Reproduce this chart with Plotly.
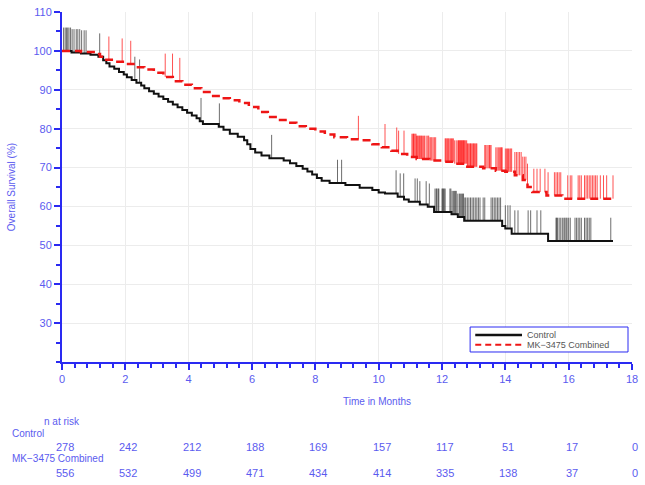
import numpy as np
import plotly.graph_objects as go

# ---------------- data ----------------
ctrl_t = [0.0, 0.3, 0.6, 0.9, 1.15, 1.3, 1.4, 1.5, 1.65, 1.8, 1.95, 2.05, 2.2, 2.35, 2.5, 2.6,
          2.75, 2.9, 3.05, 3.2, 3.35, 3.5, 3.65, 3.8, 3.95, 4.1, 4.25, 4.35, 4.45, 4.95, 5.1,
          5.3, 5.55, 5.75, 5.85, 5.95, 6.1, 6.3, 6.55, 7.0, 7.2, 7.4, 7.6, 7.75, 7.9, 8.05,
          8.2, 8.45, 8.95, 9.4, 9.8, 10.0, 10.2, 10.6, 10.8, 10.95, 11.3, 11.55, 11.75, 12.3,
          12.5, 12.7, 13.9, 14.0, 14.2, 15.35, 17.4]
ctrl_s = [100.0, 99.6, 99.3, 99.0, 98.5, 97.6, 96.8, 96.0, 95.4, 94.6, 93.9, 93.2, 92.5, 91.8,
          91.1, 90.4, 89.6, 89.0, 88.3, 87.6, 86.9, 86.2, 85.5, 84.8, 84.1, 83.4, 82.7, 81.9,
          81.2, 80.5, 79.7, 78.7, 77.9, 77.0, 76.0, 74.8, 73.9, 73.1, 72.4, 71.8, 71.1, 70.4,
          69.7, 69.0, 68.2, 67.3, 66.6, 66.0, 65.5, 64.8, 64.2, 63.6, 63.3, 62.5, 61.8, 61.2,
          60.5, 59.9, 58.6, 58.0, 57.3, 56.3, 55.0, 54.3, 53.0, 51.1, 51.1]

mk_t = [0.0, 0.6, 1.0, 1.2, 1.4, 1.7, 2.0, 2.3, 2.6, 2.9, 3.2, 3.5, 3.8, 4.1, 4.4, 4.7, 5.0,
        5.3, 5.6, 5.9, 6.2, 6.5, 6.8, 7.1, 7.4, 7.7, 8.0, 8.3, 8.6, 9.0, 9.4, 9.8, 10.1, 10.4,
        10.6, 10.9, 11.2, 11.6, 12.0, 12.4, 12.8, 13.3, 13.7, 14.0, 14.3, 14.55, 14.7, 14.85,
        15.3, 15.8, 17.45]
mk_s = [100.0, 99.7, 99.2, 98.5, 97.7, 97.2, 96.6, 95.8, 95.2, 94.4, 93.3, 92.2, 91.3, 90.4,
        89.4, 88.4, 87.8, 87.3, 86.6, 85.6, 84.3, 83.0, 82.2, 81.5, 80.6, 80.0, 79.3, 78.5,
        77.8, 77.3, 77.0, 76.0, 75.2, 74.3, 73.5, 72.7, 72.2, 71.8, 71.5, 71.0, 70.2, 69.8,
        69.2, 68.9, 68.0, 66.8, 65.0, 63.7, 62.8, 62.0, 62.0]

ctrl_cens = [0.05, 0.1, 0.14, 0.18, 0.22, 0.27, 0.32, 0.38, 0.45, 0.5, 0.56, 0.62, 0.7, 0.76,
             1.19, 2.3, 2.45, 4.39, 4.97, 6.62, 8.7, 8.83, 10.55, 10.68, 10.79, 11.15, 11.22,
             11.3, 11.5, 11.6, 11.78, 11.82, 11.84, 11.88, 11.9, 12.0, 12.02, 12.05, 12.07,
             12.1, 12.25, 12.28, 12.32, 12.36, 12.4, 12.42, 12.45, 12.5, 12.55, 12.58, 12.62,
             12.65, 12.68, 12.72, 12.75, 12.8, 12.85, 12.9, 12.95, 13.0, 13.05, 13.1, 13.15,
             13.2, 13.3, 13.35, 13.55, 13.6, 13.65, 13.7, 13.75, 13.8, 13.85, 14.0, 14.08,
             14.15, 14.3, 14.4, 14.72, 14.8, 15.0, 15.12, 15.6, 15.62, 15.65, 15.7, 15.75,
             15.8, 15.85, 15.88, 15.92, 15.95, 16.0, 16.05, 16.2, 16.25, 16.3, 16.35, 16.4,
             16.5, 16.55, 16.6, 16.65, 16.7, 17.33]
mk_cens = [1.48, 1.9, 2.17, 3.26, 3.49, 3.72, 9.36, 10.2, 10.57, 10.63, 10.8, 11.05, 11.08,
           11.1, 11.12, 11.15, 11.18, 11.2, 11.22, 11.25, 11.28, 11.3, 11.33, 11.35, 11.38,
           11.42, 11.45, 11.5, 11.55, 11.58, 11.62, 11.65, 11.68, 11.72, 11.76, 11.8, 12.1,
           12.12, 12.15, 12.18, 12.2, 12.23, 12.27, 12.3, 12.33, 12.36, 12.4, 12.45, 12.5,
           12.52, 12.54, 12.56, 12.58, 12.6, 12.62, 12.64, 12.66, 12.68, 12.7, 12.72, 12.75,
           12.78, 12.8, 12.82, 12.85, 12.88, 12.9, 12.92, 12.95, 12.98, 13.0, 13.02, 13.05,
           13.08, 13.1, 13.35, 13.38, 13.42, 13.46, 13.5, 13.52, 13.55, 13.7, 13.74, 13.78,
           13.82, 13.85, 13.88, 13.9, 14.0, 14.04, 14.07, 14.1, 14.14, 14.17, 14.2, 14.3,
           14.35, 14.4, 14.45, 14.5, 14.55, 14.6, 14.65, 14.7, 14.9, 15.0, 15.1, 15.25,
           15.35, 15.55, 15.6, 15.65, 15.7, 15.75, 15.97, 16.05, 16.1, 16.3, 16.35, 16.4,
           16.5, 16.55, 16.6, 16.65, 16.7, 16.75, 16.8, 16.85, 16.9, 17.0, 17.1, 17.2, 17.4]

risk_times = [0, 2, 4, 6, 8, 10, 12, 14, 16, 18]
risk_ctrl = [278, 242, 212, 188, 169, 157, 117, 51, 17, 0]
risk_mk = [556, 532, 499, 471, 434, 414, 335, 138, 37, 0]

x_ticks = [0, 2, 4, 6, 8, 10, 12, 14, 16, 18]
y_ticks = [30, 40, 50, 60, 70, 80, 90, 100, 110]

series_names = ["Control", "MK\u22123475 Combined"]

# ---------------- styles ----------------
BLUE_TXT = "#5b5bef"
BLUE_AX = "#2a2af2"
FONT = "Liberation Sans"
TICK_H = 6.0
CTRL_COLOR = "#111111"
MK_COLOR = "#ee1515"
MK_DASH = "8px,5px"


def censor_segments(step_t, step_s, cens):
    st = np.asarray(step_t)
    ss = np.asarray(step_s)
    xs, ys = [], []
    for c in cens:
        i = np.searchsorted(st, c, side="right") - 1
        v = ss[max(i, 0)]
        xs += [c, c, None]
        ys += [v, v + TICK_H, None]
    return xs, ys


fig = go.Figure()

cx, cy = censor_segments(ctrl_t, ctrl_s, ctrl_cens)
fig.add_trace(go.Scatter(x=cx, y=cy, mode="lines", showlegend=False, hoverinfo="skip",
                         line=dict(color="rgba(30,30,30,0.65)", width=1)))
mx, my = censor_segments(mk_t, mk_s, mk_cens)
fig.add_trace(go.Scatter(x=mx, y=my, mode="lines", showlegend=False, hoverinfo="skip",
                         line=dict(color="rgba(255,10,10,0.7)", width=1)))

fig.add_trace(go.Scatter(x=ctrl_t, y=ctrl_s, mode="lines", name=series_names[0],
                         showlegend=False,
                         line=dict(color=CTRL_COLOR, width=2, shape="hv")))
fig.add_trace(go.Scatter(x=mk_t, y=mk_s, mode="lines", name=series_names[1],
                         showlegend=False,
                         line=dict(color=MK_COLOR, width=2.5, shape="hv", dash=MK_DASH)))

axis_common = dict(showline=True, linecolor=BLUE_AX, linewidth=2, ticks="outside",
                   tickcolor=BLUE_AX, ticklen=6, tickwidth=1.5,
                   tickfont=dict(family=FONT, size=11, color=BLUE_TXT),
                   showgrid=True, gridcolor="#ececec", gridwidth=1, zeroline=False,
                   mirror=False, automargin=False)

fig.update_xaxes(range=[0, 18], tickvals=x_ticks, ticktext=[str(v) for v in x_ticks],
                 minor=dict(dtick=0.4, tick0=0, ticks="outside", ticklen=4,
                            tickcolor=BLUE_AX, showgrid=False),
                 **axis_common)
fig.update_yaxes(range=[20, 110], tickvals=y_ticks, ticktext=[str(v) for v in y_ticks],
                 minor=dict(dtick=5, tick0=0, ticks="outside", ticklen=4,
                            tickcolor=BLUE_AX, showgrid=False),
                 title=dict(text="Overall Survival (%)", standoff=16,
                            font=dict(family=FONT, size=10, color=BLUE_TXT)),
                 **axis_common)

annotations = []
annotations.append(dict(text="Time in Months", xref="paper", yref="paper", x=0.552, y=-0.113,
                        showarrow=False, xanchor="center", yanchor="middle",
                        font=dict(family=FONT, size=10, color=BLUE_TXT)))
annotations.append(dict(text="n at risk", xref="paper", yref="paper", x=-0.035, y=-0.169,
                        showarrow=False, xanchor="left", yanchor="middle",
                        font=dict(family=FONT, size=10, color=BLUE_TXT)))
for name, yy in zip(series_names, [-0.203, -0.277]):
    annotations.append(dict(text=name, xref="paper", yref="paper", x=-0.091, y=yy,
                            showarrow=False, xanchor="left", yanchor="middle",
                            font=dict(family=FONT, size=10, color=BLUE_TXT)))
for t, a, b in zip(risk_times, risk_ctrl, risk_mk):
    annotations.append(dict(text=str(a), xref="x", yref="paper", x=t, y=-0.242,
                            showarrow=False, xanchor="center", yanchor="middle", xshift=3,
                            font=dict(family=FONT, size=11, color=BLUE_TXT)))
    annotations.append(dict(text=str(b), xref="x", yref="paper", x=t, y=-0.318,
                            showarrow=False, xanchor="center", yanchor="middle", xshift=3,
                            font=dict(family=FONT, size=11, color=BLUE_TXT)))

# manual legend (box, line samples, labels)
shapes = [dict(type="rect", xref="paper", yref="paper", x0=0.716, x1=0.993, y0=0.0286, y1=0.1,
               line=dict(color=BLUE_AX, width=1), fillcolor="white", layer="above")]
leg_y = [0.077, 0.049]
leg_style = [dict(color=CTRL_COLOR, width=2.5), dict(color=MK_COLOR, width=2, dash="6px,4px")]
for name, yy, st in zip(series_names, leg_y, leg_style):
    shapes.append(dict(type="line", xref="paper", yref="paper", x0=0.725, x1=0.807,
                       y0=yy, y1=yy, line=st, layer="above"))
    annotations.append(dict(text=name, xref="paper", yref="paper", x=0.813, y=yy,
                            showarrow=False, xanchor="left", yanchor="middle",
                            font=dict(family=FONT, size=9, color="#555555")))

fig.update_layout(
    width=645, height=485,
    margin=dict(l=62, r=13, t=12, b=123),
    paper_bgcolor="white", plot_bgcolor="white",
    annotations=annotations,
    shapes=shapes,
    showlegend=False,
)

fig.write_html("out.html")
